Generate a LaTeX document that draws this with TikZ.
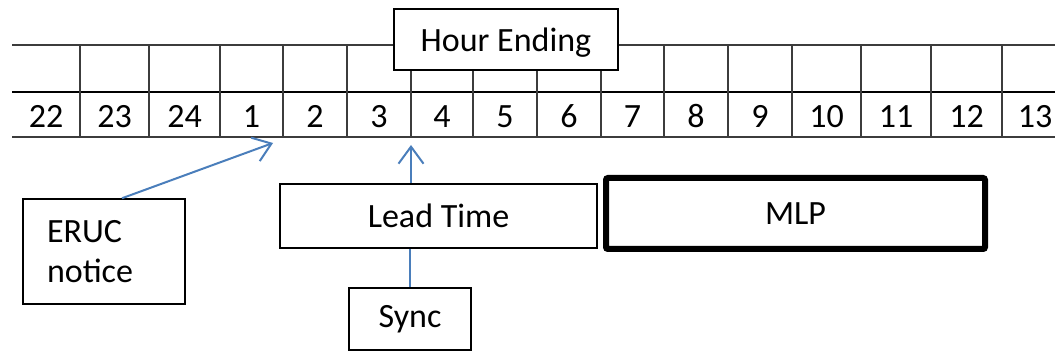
\documentclass[tikz,border=0pt]{standalone}
\usepackage{fontspec}
\setmainfont{Carlito}
\usetikzlibrary{arrows.meta,calc}
\definecolor{arrowblue}{RGB}{74,126,187}
\definecolor{gridgray}{RGB}{60,60,60}
\begin{document}
\begin{tikzpicture}[x=1pt,y=-1pt,
  lbl/.style={font=\fontsize{34}{40}\selectfont, inner sep=0pt},
  box/.style={draw=black, line width=1.5pt, fill=white, font=\fontsize{34}{40}\selectfont, inner sep=0pt},
  gridline/.style={draw=gridgray, line width=1.4pt},
  conn/.style={draw=arrowblue, line width=2pt},
  arr/.style={conn, -{Straight Barb[length=17pt,width=25pt]}}]
\useasboundingbox (0,0) rectangle (1055,352);
% grid
\draw[gridline] (12,45) -- (1055,45);
\draw[gridline] (12,137) -- (1055,137);
\draw[line width=2.5pt, black] (12,92) -- (1055,92);
\foreach \x in {80,149,220,283,347,411,473,537,601,664,728,792,861,931,1002}
  \draw[gridline] (\x,45) -- (\x,137);
% hour numbers
\foreach \x/\t in {46/22,114.5/23,184.5/24,251.5/1,315/2,379/3,442/4,505/5,569/6,632.5/7,696/8,760/9,826.5/10,896/11,966.5/12,1035/13}
  \node[lbl, anchor=base] (h\t) at (\x,128) {\t};
% boxes
\node[box, minimum width=224pt, minimum height=61pt, text height=25pt, text depth=0pt] (hour) at (506,39.5) {Hour Ending};
\node[box, minimum width=162pt, minimum height=105pt, text width=114pt, align=left] (eruc) at (104,251.5) {ERUC\\notice};
\node[box, minimum width=317pt, minimum height=64pt] (lead) at (438.5,216) {Lead Time};
\node[box, minimum width=122pt, minimum height=62pt] (sync) at (410,319) {Sync};
\node[box, line width=6pt, rounded corners=2pt, minimum width=379pt, minimum height=71pt] (mlp) at (795.5,213.5) {MLP};
% connectors
\coordinate (erucTip) at (273,143);
\coordinate (leadTip) at (411,145);
\draw[arr] ($(eruc.north west)!0.61!(eruc.north east)$) -- (erucTip);
\draw[arr] (lead.north -| leadTip) -- (leadTip);
\draw[conn] (sync.north) -- (lead.south -| sync.north);
\end{tikzpicture}
\end{document}
